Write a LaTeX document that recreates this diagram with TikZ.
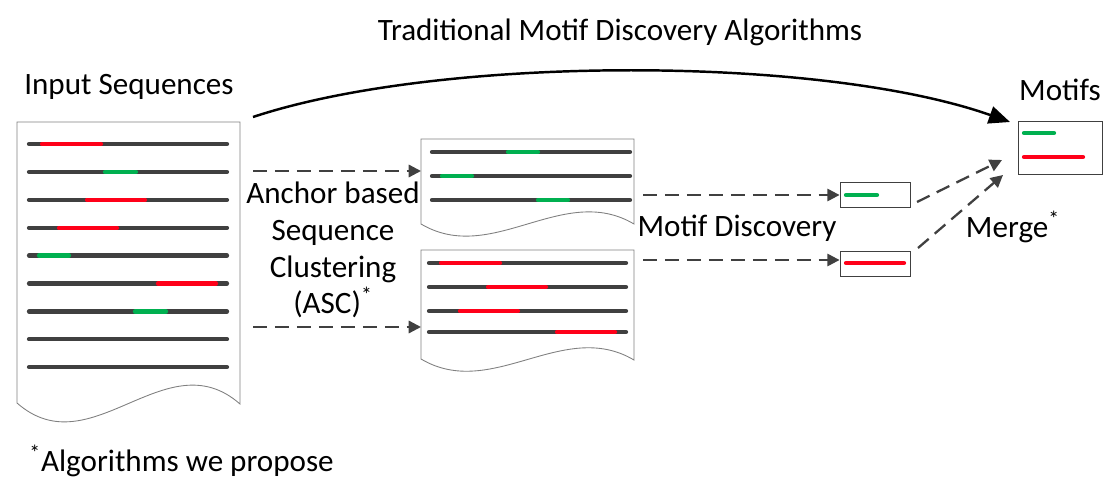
\documentclass[tikz,border=0pt]{standalone}
\usepackage{fontspec}
\setmainfont{Carlito}
\usetikzlibrary{arrows.meta}
\definecolor{seqgray}{HTML}{404040}
\definecolor{motifred}{HTML}{FF0019}
\definecolor{motifgreen}{HTML}{00B050}
\begin{document}
\begin{tikzpicture}[x=0.02cm,y=-0.02cm,>={Triangle[length=7pt,width=7pt]},
        seq/.style={line width=2.4pt,color=seqgray,line cap=round},
        doc/.style={draw=gray,line width=0.5pt,fill=white},
        dasharrow/.style={->,color=seqgray,line width=1.3pt,dash pattern=on 8pt off 4.5pt},
        motifbox/.style={draw=seqgray,line width=0.5pt,minimum width=1.4cm,minimum height=0.5cm,inner sep=0pt},
        lbl/.style={font=\fontsize{17.7}{21}\selectfont,align=center,inner sep=0pt}]
                \useasboundingbox (0,0) rectangle (1118,486);
                %\draw [color=gray,dash pattern=on 1pt off 1pt,step=1cm] (0,0) grid (1118,486);
                % input sequences
                \draw[doc] (17,403) -- (17,122) -- (240,122) -- (240,404) .. controls (166,339) and (91,468) .. (17,403) -- cycle;
                \foreach \i in {0,...,8}
                \draw[seq] (29,{144+27.9*\i}) -- (227,{144+27.9*\i});
                \foreach \i/\a/\b/\c in {0/42/101/motifred,1/105/136/motifgreen,2/87/145/motifred,3/59/117/motifred,4/39/69/motifgreen,5/158/216/motifred,6/135/166/motifgreen}
                \draw[seq,color=\c] (\a,{144+27.9*\i}) -- (\b,{144+27.9*\i});
                % clusters
                \draw[doc] (421,224) -- (421,139) -- (634,139) -- (634,224) .. controls (563,182) and (492,266) .. (421,224) -- cycle;
                \foreach \y/\a/\b in {152/508/538,176/442/472,200/538/568}
                \draw[seq] (432,\y) -- (630,\y) (\a,\y) edge[seq,color=motifgreen] (\b,\y);
                \draw[doc] (421,359) -- (421,250) -- (634,250) -- (634,360) .. controls (563,318) and (492,401) .. (421,359) -- cycle;
                \foreach \y/\a/\b in {263/441/500,287/488/546,311/460/518,332/557/615}
                \draw[seq] (429,\y) -- (626,\y) (\a,\y) edge[seq,color=motifred] (\b,\y);
                % motifs
                \node[motifbox] (mA) at (875,194.5) {};
                \node[motifbox] (mB) at (875,263.5) {};
                \node[motifbox,minimum width=1.68cm,minimum height=1.06cm] (motifs) at (1060,147.5) {};
                \draw[seq,color=motifgreen] (846,195) -- (877,195) (1024,133) -- (1054,133);
                \draw[seq,color=motifred] (846,263) -- (904,263) (1024,157) -- (1083,157);
                % labels
                \node[lbl] (trad) at (620,32) {Traditional Motif Discovery Algorithms};
                \node[lbl] (input) at (129,87) {Input Sequences};
                \node[lbl] (asc) at (333,250) {Anchor based\\Sequence\\Clustering\\(ASC)\textsuperscript{*}};
                \node[lbl] (md) at (737,228) {Motif Discovery};
                \node[lbl] (merge) at (1013,227) {Merge\textsuperscript{*}};
                \node[lbl] (mt) at (1060,90) {Motifs};
                \node[lbl,anchor=west] (note) at (29,461) {\textsuperscript{*}Algorithms we propose};
                % arrows
                \coordinate (inTR) at (253,117);
                \coordinate (mtin) at (1010,122);
                \draw[line width=1.4pt,-{Triangle[length=12pt,width=10pt]}] (inTR) .. controls (440,55) and (820,55) .. (mtin);
                \coordinate (in1) at (253,171);
                \coordinate (in2) at (253,327);
                \coordinate (cA) at (421,171);
                \coordinate (cB) at (421,327);
                \coordinate (cAout) at (643,195);
                \coordinate (cBout) at (643,260);
                \draw[dasharrow] (in1) -- (cA);
                \draw[dasharrow] (in2) -- (cB);
                \draw[dasharrow] (cAout) -- (cAout -| mA.west);
                \draw[dasharrow] (cBout) -- (cBout -| mB.west);
                \coordinate (mAout) at (917,202);
                \coordinate (mBout) at (918,248);
                \coordinate (mgA) at (1002,160);
                \coordinate (mgB) at (1003,175);
                \draw[dasharrow] (mAout) -- (mgA);
                \draw[dasharrow] (mBout) -- (mgB);
\end{tikzpicture}
\end{document}
